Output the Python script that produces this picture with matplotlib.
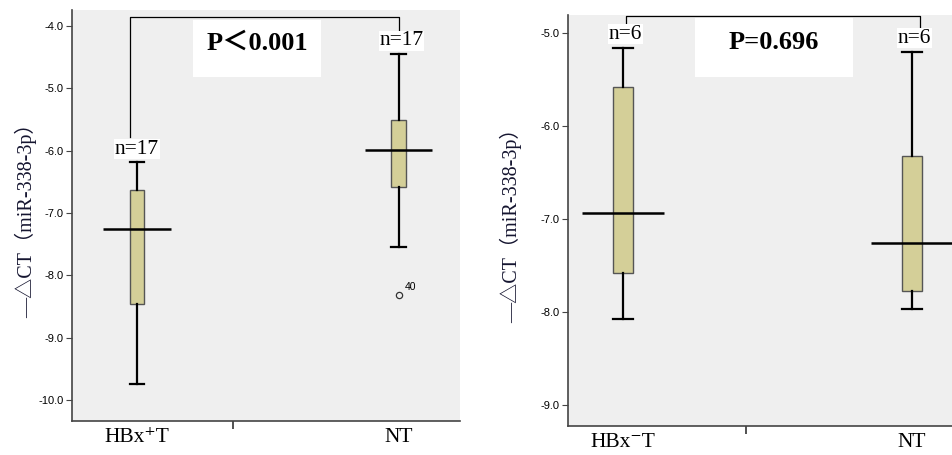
import matplotlib
matplotlib.use("Agg")
import matplotlib.pyplot as plt
from matplotlib.patches import Rectangle

# ---- data ----
groups_a = ["HBx\u207aT", "NT"]
groups_b = ["HBx\u207bT", "NT"]
n_a = [17, 17]
n_b = [6, 6]

# left panel: HBx+ tumour vs NT
med_a = [-7.26, -5.99]
q1_a = [-8.46, -6.58]
q3_a = [-6.63, -5.50]
lo_a = [-9.75, -7.55]
hi_a = [-6.18, -4.44]
fliers_a = [[], [-8.31]]
flier_ids_a = [None, "40"]
p_a = "P\uff1c0.001"

# right panel: HBx- tumour vs NT
med_b = [-6.94, -7.26]
q1_b = [-7.58, -7.78]
q3_b = [-5.58, -6.33]
lo_b = [-8.08, -7.97]
hi_b = [-5.17, -5.21]
fliers_b = [[], []]
p_b = "P=0.696"

ylabel = "\u2014\u25b3CT\uff08miR-338-3p\uff09"

SERIF = ["Liberation Serif", "DejaVu Serif", "Noto Sans CJK SC"]
LABEL_FONT = ["Liberation Serif", "Noto Sans CJK SC", "DejaVu Serif"]
BOX_COLOR = "#d4cf98"


def stats(med, q1, q3, lo, hi, fl):
    return [dict(med=m, q1=a, q3=b, whislo=l, whishi=h, fliers=f)
            for m, a, b, l, h, f in zip(med, q1, q3, lo, hi, fl)]


def panel(ax, st, cats, ns, ylim, yticks, xlim, midtick, width, medw,
          n_off, bracket, pbox, ptext, ylab_x):
    ax.set_facecolor("#efefef")
    ax.bxp(st, positions=[0, 1], widths=width, capwidths=width,
           patch_artist=True, showfliers=True,
           boxprops=dict(facecolor=BOX_COLOR, edgecolor="#555555", linewidth=1),
           whiskerprops=dict(color="black", linewidth=1.6),
           capprops=dict(color="black", linewidth=1.6),
           medianprops=dict(visible=False),
           flierprops=dict(marker="o", markersize=4.5, markerfacecolor="none",
                           markeredgecolor="#333333", markeredgewidth=0.9))
    for i, s in enumerate(st):
        ax.hlines(s["med"], i - medw / 2, i + medw / 2, color="black", linewidth=1.8, zorder=4)
        ax.text(i + n_off[i][0], s["whishi"] + n_off[i][1], f"n={ns[i]}",
                ha="center", va="bottom", fontsize=15.5, family=SERIF,
                bbox=dict(facecolor="white", edgecolor="none", pad=0.5), zorder=5)

    # significance bracket
    (x0, y0), (x1, y1), ytop = bracket
    ax.plot([x0, x0, x1, x1], [y0, ytop, ytop, y1], color="black", linewidth=0.9,
            clip_on=False, zorder=3)

    # p-value box
    bx0, by0, bx1, by1 = pbox
    ax.add_patch(Rectangle((bx0, by0), bx1 - bx0, by1 - by0, transform=ax.transAxes,
                           facecolor="white", edgecolor="none", zorder=4))
    ax.text((bx0 + bx1) / 2, (by0 + by1) / 2 + 0.012, ptext, transform=ax.transAxes,
            ha="center", va="center", fontsize=19, fontweight="bold",
            family=SERIF, zorder=5)

    ax.set_ylim(*ylim)
    ax.set_yticks(yticks)
    ax.set_yticklabels([f"{t:.1f}" for t in yticks], fontsize=8, family="Liberation Sans")
    ax.tick_params(axis="y", length=4, width=0.8, color="#444444", pad=2)

    ax.set_xlim(*xlim)
    ax.set_xticks([0, 1])
    ax.set_xticklabels(cats, fontsize=15.5, family=SERIF)
    ax.tick_params(axis="x", length=0, pad=5)
    ax.set_xticks([midtick], minor=True)
    ax.tick_params(axis="x", which="minor", length=6, width=1.2, color="#333333")

    for side in ("top", "right"):
        ax.spines[side].set_visible(False)
    for side in ("left", "bottom"):
        ax.spines[side].set_color("#444444")
        ax.spines[side].set_linewidth(1.2)

    ax.set_ylabel(ylabel, fontsize=14.5, family=LABEL_FONT, color="#151530")
    ax.yaxis.set_label_coords(ylab_x, 0.5)


fig = plt.figure(figsize=(9.52, 4.55), dpi=100)

ax1 = fig.add_axes([72 / 952, 1 - 421 / 455, 388 / 952, 411 / 455])
panel(ax1, stats(med_a, q1_a, q3_a, lo_a, hi_a, fliers_a), groups_a, n_a,
      ylim=(-10.34, -3.74), yticks=[-4.0, -5.0, -6.0, -7.0, -8.0, -9.0, -10.0],
      xlim=(-0.248, 1.233), midtick=0.366, width=0.057, medw=0.256,
      n_off=[(0.0, 0.05), (0.01, 0.05)],
      bracket=((-0.027, -5.78), (1.0, -4.12), -3.86),
      pbox=(0.312, 0.837, 0.642, 0.976), ptext=p_a, ylab_x=-0.09)
# case number next to the outlier
for i, (fl, tag) in enumerate(zip(fliers_a, flier_ids_a)):
    for v in fl:
        ax1.annotate(tag, (i, v), xytext=(4, 3), textcoords="offset points",
                     fontsize=7.5, family="Liberation Sans")

ax2 = fig.add_axes([568 / 952, 1 - 426 / 455, 384 / 952, 411 / 455])
panel(ax2, stats(med_b, q1_b, q3_b, lo_b, hi_b, fliers_b), groups_b, n_b,
      ylim=(-9.23, -4.81), yticks=[-5.0, -6.0, -7.0, -8.0, -9.0],
      xlim=(-0.19, 1.14), midtick=0.425, width=0.069, medw=0.284,
      n_off=[(0.01, 0.05), (0.01, 0.05)],
      bracket=((0.01, -4.94), (1.03, -4.97), -4.82),
      pbox=(0.330, 0.849, 0.741, 0.993), ptext=p_b, ylab_x=-0.12)

fig.savefig("out.png", dpi=100)
